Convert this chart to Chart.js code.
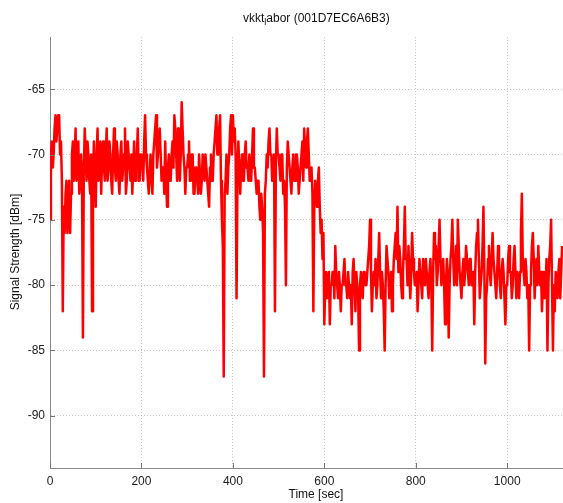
<!DOCTYPE html>
<html>
<head>
<meta charset="utf-8">
<script src="https://cdn.jsdelivr.net/npm/chart.js"></script>
<style>
  html, body { margin: 0; padding: 0; background: #fff; overflow: hidden; }
  #wrap { width: 563px; height: 503px; position: relative; }
</style>
</head>
<body>
<div id="wrap"><canvas id="signal"></canvas></div>
<script>
// one reading every 2 seconds, dBm (one row = 100 s)
const sampleStepSec = 2;
const signalDbm = [
  -75,-70,-69,-71,-70,-68,-67,-69,-68,-67,-67,-70,-69,-72,-82,-74,-76,-73,-72,-76,-74,-72,-76,-73,-70,-69,-72,-70,-68,-72,-71,-69,-73,-72,-70,-72,-84,-71,-68,-70,-72,-69,-70,-72,-73,-70,-82,-72,-69,-72,
  -74,-70,-68,-72,-71,-69,-73,-70,-69,-71,-72,-70,-68,-72,-71,-69,-70,-72,-73,-70,-68,-71,-72,-69,-70,-72,-73,-70,-69,-72,-71,-70,-68,-73,-72,-69,-70,-71,-72,-70,-73,-71,-69,-72,-71,-70,-68,-72,-72,-70,
  -70,-71,-72,-69,-67,-70,-71,-72,-73,-71,-70,-72,-73,-70,-69,-68,-67,-71,-70,-69,-68,-70,-72,-71,-71,-73,-69,-72,-74,-71,-70,-72,-72,-70,-69,-71,-67,-68,-70,-72,-68,-71,-72,-70,-66,-68,-70,-71,-73,-71,
  -71,-70,-69,-72,-72,-70,-70,-73,-73,-71,-71,-72,-73,-70,-70,-73,-72,-70,-71,-72,-70,-71,-72,-73,-74,-71,-70,-72,-72,-70,-69,-68,-67,-70,-70,-68,-67,-72,-75,-77,-87,-73,-72,-70,-73,-71,-70,-68,-67,-70,
  -67,-69,-68,-70,-81,-72,-69,-71,-73,-71,-70,-72,-72,-70,-69,-71,-71,-72,-70,-72,-72,-70,-68,-71,-71,-72,-73,-72,-72,-74,-75,-73,-74,-76,-87,-73,-72,-70,-71,-69,-68,-70,-70,-72,-72,-70,-82,-71,-68,-70,
  -70,-71,-72,-70,-70,-73,-72,-74,-80,-71,-69,-70,-71,-72,-73,-71,-70,-72,-72,-70,-70,-71,-73,-72,-71,-70,-69,-72,-68,-70,-71,-69,-68,-70,-72,-72,-71,-73,-82,-74,-72,-73,-74,-72,-71,-74,-76,-75,-78,-76,
  -83,-80,-79,-81,-81,-79,-83,-80,-80,-79,-79,-81,-77,-79,-80,-81,-79,-80,-82,-80,-80,-79,-78,-80,-80,-81,-79,-80,-81,-80,-83,-79,-78,-80,-82,-79,-80,-81,-85,-80,-79,-80,-81,-79,-79,-80,-80,-79,-78,-77,
  -75,-79,-82,-80,-79,-80,-78,-81,-80,-78,-76,-79,-81,-79,-80,-82,-85,-80,-77,-78,-79,-81,-80,-79,-82,-80,-78,-77,-76,-78,-74,-79,-77,-78,-80,-81,-79,-77,-74,-78,-78,-80,-77,-79,-81,-79,-76,-78,-79,-80,
  -80,-79,-82,-80,-78,-79,-80,-81,-78,-79,-80,-78,-79,-80,-81,-79,-78,-80,-85,-79,-76,-78,-77,-80,-79,-77,-75,-78,-80,-79,-78,-80,-83,-80,-78,-79,-84,-80,-78,-77,-75,-78,-80,-79,-77,-80,-75,-77,-79,-80,
  -81,-79,-78,-80,-79,-77,-77,-79,-80,-78,-78,-80,-80,-79,-83,-79,-77,-76,-75,-78,-81,-80,-79,-77,-74,-79,-86,-81,-80,-78,-77,-79,-80,-78,-76,-78,-79,-80,-81,-79,-77,-78,-80,-81,-79,-78,-79,-81,-83,-80,
  -80,-78,-77,-79,-79,-81,-80,-78,-77,-79,-81,-79,-80,-81,-79,-76,-73,-78,-79,-80,-78,-79,-81,-80,-85,-80,-79,-77,-76,-78,-81,-79,-78,-80,-77,-79,-80,-79,-82,-80,-79,-81,-80,-78,-85,-80,-78,-77,-75,-80,
  -85,-80,-82,-79,-80,-81,-79,-78,-81,-79,-77
];
const xTicks = [0, 200, 400, 600, 800, 1000];
const yTicks = [-90, -85, -80, -75, -70, -65];
const titleMain = "vkkt";
const titleSub = "l";
const titleRest = "abor (001D7EC6A6B3)";
const xLabel = "Time [sec]";
const yLabel = "Signal Strength [dBm]";

const points = signalDbm.map((v, i) => ({ x: i * sampleStepSec, y: v }));

const FONT = "'Liberation Sans', Arial, sans-serif";

// matlab style texts + inward tick marks
const matlabDecor = {
  id: "matlabDecor",
  afterDraw(chart) {
    const ctx = chart.ctx;
    const a = chart.chartArea;
    const xs = chart.scales.x, ys = chart.scales.y;
    ctx.save();
    ctx.strokeStyle = "#777";
    ctx.lineWidth = 1;
    ctx.beginPath();
    yTicks.forEach(v => {
      const py = Math.round(ys.getPixelForValue(v)) + 0.5;
      ctx.moveTo(a.left, py); ctx.lineTo(a.left + 5, py);
    });
    xTicks.forEach(v => {
      const px = Math.round(xs.getPixelForValue(v)) + 0.5;
      ctx.moveTo(px, a.bottom); ctx.lineTo(px, a.bottom - 5);
    });
    ctx.stroke();

    ctx.fillStyle = "#111";
    ctx.textBaseline = "alphabetic";
    ctx.textAlign = "left";
    ctx.font = "12px " + FONT;
    let tx = 243;
    ctx.fillText(titleMain, tx, 22);
    tx += ctx.measureText(titleMain).width;
    ctx.font = "9px " + FONT;
    ctx.fillText(titleSub, tx, 25);
    tx += ctx.measureText(titleSub).width;
    ctx.font = "12px " + FONT;
    ctx.fillText(titleRest, tx, 22);

    ctx.textAlign = "center";
    ctx.textBaseline = "middle";
    ctx.fillText(xLabel, 316, 495);
    ctx.translate(16, 252);
    ctx.rotate(-Math.PI / 2);
    ctx.fillText(yLabel, 0, 0);
    ctx.restore();
  }
};

new Chart(document.getElementById("signal"), {
  type: "line",
  data: {
    datasets: [{
      data: points,
      borderColor: "#ff0000",
      borderWidth: 2.5,
      borderJoinStyle: "round",
      pointRadius: 0,
      tension: 0,
      fill: false
    }]
  },
  options: {
    responsive: true,
    maintainAspectRatio: false,
    animation: false,
    layout: { padding: { top: 37, right: 0, bottom: 0, left: 0 } },
    plugins: { legend: { display: false }, tooltip: { enabled: false }, title: { display: false } },
    scales: {
      x: {
        type: "linear",
        min: 0,
        max: 1122,
        afterFit: s => { s.height = 35; },
        afterBuildTicks: s => { s.ticks = xTicks.map(v => ({ value: v })); },
        grid: { color: "#c4c4c4", lineWidth: 1, drawTicks: false },
        border: { color: "#8a8a8a", width: 1, dash: [1, 2] },
        ticks: { color: "#222", padding: 6, maxRotation: 0, font: { family: FONT, size: 12 },
                 callback: v => String(v) }
      },
      y: {
        min: -94,
        max: -61,
        afterFit: s => { s.width = 50; },
        afterBuildTicks: s => { s.ticks = yTicks.map(v => ({ value: v })); },
        grid: { color: "#c4c4c4", lineWidth: 1, drawTicks: false },
        border: { color: "#8a8a8a", width: 1, dash: [1, 2] },
        ticks: { color: "#222", padding: 5, font: { family: FONT, size: 12 },
                 callback: v => String(v) }
      }
    }
  },
  plugins: [matlabDecor]
});
</script>
</body>
</html>
